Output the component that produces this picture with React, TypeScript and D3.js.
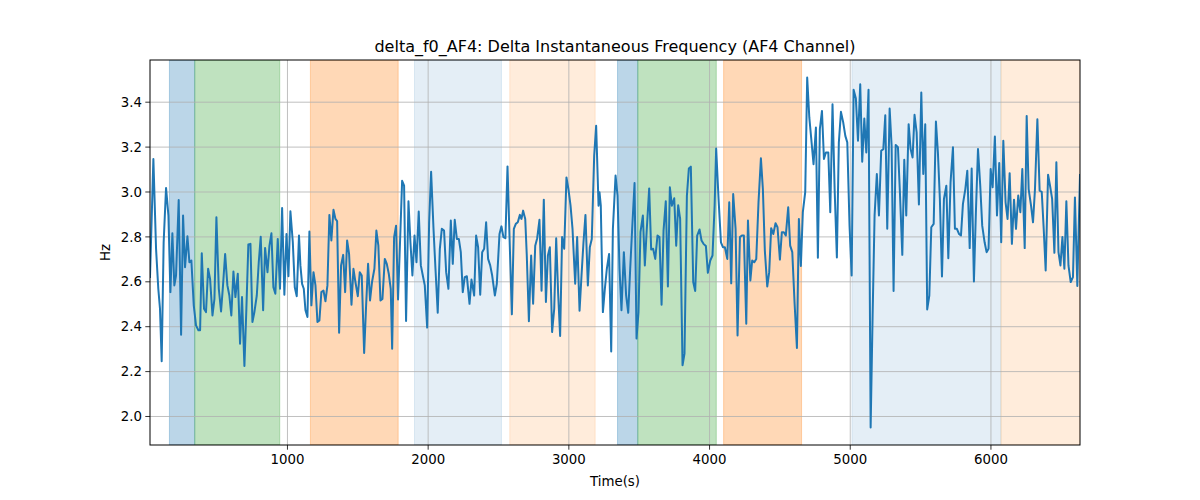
import React from "react";
import * as d3 from "d3";

const title = "delta_f0_AF4: Delta Instantaneous Frequency (AF4 Channel)";
const xLabel = "Time(s)";
const yLabel = "Hz";

const xTicks = [1000, 2000, 3000, 4000, 5000, 6000];
const yTicks = [2.0, 2.2, 2.4, 2.6, 2.8, 3.0, 3.2, 3.4];

// shaded segments: [start, end, colour, alpha]
const spanStarts = [161, 341, 1163, 1903, 2580, 3346, 3490, 4100, 5012, 6071];
const spanEnds = [341, 945, 1787, 2521, 3187, 3490, 4048, 4654, 6071, 6633];
const spanColors = ["#1f77b4", "#2ca02c", "#ff7f0e", "#1f77b4", "#ff7f0e", "#1f77b4", "#2ca02c", "#ff7f0e", "#1f77b4", "#ff7f0e"];
const spanAlphas = [0.3, 0.3, 0.3, 0.12, 0.15, 0.3, 0.3, 0.3, 0.12, 0.15];

const times = [
  23, 47, 66, 82, 94, 106, 120, 137, 154, 168, 182, 196, 208, 227, 244, 258, 272, 289, 303, 317,
  334, 350, 367, 379, 391, 407, 421, 436, 450, 467, 481, 495, 512, 528, 542, 557, 573, 587, 601, 616,
  630, 647, 663, 677, 694, 708, 722, 737, 751, 765, 782, 796, 810, 827, 841, 858, 872, 886, 900, 914,
  931, 947, 962, 978, 993, 1007, 1021, 1038, 1052, 1066, 1082,
  1092, 1104, 1116, 1128, 1142, 1156, 1170, 1185, 1199, 1213, 1227, 1241, 1256, 1270, 1284, 1298, 1312, 1327, 1341, 1353,
  1367, 1381, 1396, 1410, 1424, 1438, 1455, 1469, 1483, 1500, 1514, 1528, 1545, 1559, 1573, 1587, 1601, 1618, 1632, 1646,
  1661, 1675, 1692, 1706, 1720, 1734, 1744, 1758, 1772, 1786, 1800, 1815, 1829, 1843, 1860, 1874, 1888, 1903, 1917, 1933,
  1948, 1962, 1976, 1993, 2007, 2021, 2038, 2052, 2068, 2083, 2097, 2113, 2128, 2144,
  2161, 2175, 2189, 2204, 2218, 2232, 2246, 2260, 2275, 2294, 2308, 2327, 2341, 2355, 2370, 2384, 2398, 2412, 2426, 2441,
  2455, 2474, 2488, 2507, 2521, 2535, 2549, 2564, 2578, 2595, 2609, 2623, 2637, 2652, 2663, 2675, 2690, 2701, 2716, 2732,
  2746, 2761, 2775, 2791, 2806, 2822, 2837, 2851, 2865, 2881, 2896, 2910, 2924, 2938, 2952, 2967, 2983, 2997, 3012, 3026,
  3045, 3059, 3076, 3090, 3104, 3118, 3135, 3149, 3163, 3180, 3194, 3211,
  3218, 3227, 3242, 3256, 3270, 3286, 3301, 3313, 3332, 3346, 3360, 3374, 3391, 3407, 3422, 3436, 3450, 3467, 3481, 3495,
  3509, 3526, 3540, 3554, 3571, 3585, 3599, 3614, 3630, 3644, 3659, 3673, 3689, 3704, 3718, 3732, 3749, 3763, 3777, 3791,
  3808, 3822, 3839, 3853, 3867, 3884, 3898, 3912, 3929, 3943, 3957, 3974, 3988, 4005, 4021, 4036, 4047, 4064, 4081, 4095,
  4109, 4126, 4140, 4154, 4168, 4185, 4199, 4216, 4230, 4244, 4261, 4273,
  4290, 4303, 4318, 4332, 4348, 4365, 4379, 4393, 4410, 4424, 4438, 4453, 4469, 4483, 4500, 4514, 4528, 4542, 4559, 4573,
  4588, 4604, 4621, 4635, 4649, 4663, 4680, 4694, 4709, 4723, 4739, 4756, 4770, 4784, 4799, 4813, 4827, 4844, 4858, 4874,
  4889, 4905, 4919, 4934, 4950, 4965, 4979, 4995, 5010, 5024, 5040, 5055, 5071, 5085, 5100, 5114, 5130, 5145, 5159, 5173,
  5189, 5204, 5220, 5235, 5249, 5263, 5280, 5294, 5308, 5323, 5339,
  5353, 5370, 5384, 5398, 5415, 5429, 5443, 5457, 5472, 5488, 5505, 5519, 5533, 5547, 5562, 5576, 5593, 5609, 5623, 5637,
  5652, 5666, 5683, 5697, 5713, 5730, 5744, 5758, 5773, 5787, 5801, 5818, 5832, 5849, 5863, 5879, 5893, 5908, 5924, 5938,
  5955, 5969, 5983, 5998, 6012, 6028, 6043, 6059, 6073, 6088, 6104, 6118, 6133, 6149, 6164, 6178, 6194, 6209, 6223, 6240,
  6254, 6268, 6285, 6299, 6313, 6330, 6346, 6361, 6375, 6389, 6406, 6420, 6435, 6451, 6465, 6480, 6494, 6508, 6522, 6536,
  6551, 6567, 6583, 6597, 6614, 6633,
];

const values = [
  2.621, 3.147, 2.747, 2.569, 2.48, 2.246, 2.776, 3.018, 2.895, 2.554, 2.816, 2.584, 2.628, 2.964, 2.364, 2.895, 2.665, 2.803, 2.687, 2.695,
  2.495, 2.406, 2.384, 2.384, 2.727, 2.48, 2.465, 2.658, 2.613, 2.45, 2.524, 2.887, 2.569, 2.468, 2.584, 2.724, 2.584, 2.539, 2.45, 2.646,
  2.532, 2.636, 2.324, 2.532, 2.225, 2.48, 2.766, 2.769, 2.421, 2.465, 2.539, 2.687, 2.801, 2.473, 2.751, 2.643, 2.761, 2.816, 2.576, 2.547,
  2.791, 2.569, 2.929, 2.542, 2.813, 2.625, 2.914, 2.776, 2.576, 2.536, 2.806,
  2.673, 2.591, 2.569, 2.473, 2.443, 2.824, 2.495, 2.643, 2.584, 2.421, 2.428, 2.554, 2.561, 2.513, 2.584, 2.898, 2.784, 2.921, 2.88, 2.87,
  2.373, 2.673, 2.72, 2.554, 2.784, 2.724, 2.498, 2.658, 2.599, 2.536, 2.643, 2.628, 2.283, 2.495, 2.68, 2.517, 2.599, 2.658, 2.828, 2.761,
  2.517, 2.524, 2.702, 2.68, 2.636, 2.569, 2.302, 2.799, 2.85, 2.521, 2.776, 3.05, 3.028, 2.425, 2.959, 2.776, 2.628, 2.806, 2.687, 2.913,
  2.673, 2.628, 2.584, 2.396, 2.865, 3.09, 2.836, 2.658, 2.462, 2.747, 2.836, 2.828, 2.643, 2.569,
  2.873, 2.68, 2.876, 2.791, 2.791, 2.732, 2.554, 2.621, 2.625, 2.502, 2.61, 2.539, 2.806, 2.754, 2.542, 2.732, 2.747, 2.865, 2.702, 2.673,
  2.628, 2.539, 2.591, 2.813, 2.847, 2.799, 2.794, 3.114, 2.806, 2.455, 2.836, 2.858, 2.865, 2.898, 2.88, 2.917, 2.88, 2.717, 2.424, 2.717,
  2.502, 2.761, 2.794, 2.876, 2.56, 2.966, 2.51, 2.717, 2.754, 2.376, 2.48, 2.794, 2.547, 2.359, 2.799, 2.747, 3.065, 3.013, 2.939, 2.836,
  2.591, 2.799, 2.471, 2.628, 2.776, 2.898, 2.584, 2.754, 2.791, 3.161, 3.295, 2.939,
  2.999, 2.939, 2.465, 2.569, 2.658, 2.724, 2.29, 2.836, 3.073, 2.984, 2.658, 2.473, 2.732, 2.539, 2.462, 2.658, 2.836, 3.04, 2.347, 2.465,
  2.821, 2.895, 2.673, 2.836, 3.016, 2.744, 2.747, 2.702, 2.806, 2.799, 2.498, 2.828, 2.959, 2.579, 3.021, 2.939, 2.972, 2.761, 2.941, 2.88,
  2.228, 2.28, 2.984, 3.105, 3.113, 2.599, 2.559, 2.806, 2.833, 2.784, 2.769, 2.759, 2.64, 2.695, 2.717, 2.939, 3.194, 2.969, 2.776, 2.754,
  2.754, 2.702, 2.954, 2.593, 2.991, 2.836, 2.361, 2.799, 2.806, 2.806, 2.413, 2.873,
  2.606, 2.695, 2.687, 2.702, 2.954, 3.15, 3.013, 2.739, 2.579, 2.643, 2.839, 2.813, 2.861, 2.843, 2.699, 2.821, 2.821, 2.806, 2.932, 2.761,
  2.732, 2.51, 2.305, 2.88, 2.67, 2.91, 2.999, 3.51, 3.332, 3.236, 3.124, 3.287, 2.707, 3.28, 3.361, 3.147, 3.176, 3.176, 2.91, 3.391,
  3.013, 2.708, 3.221, 3.357, 3.31, 3.25, 3.221, 2.85, 2.628, 3.455, 3.416, 3.228, 3.48, 3.135, 3.327, 3.176, 3.455, 1.951, 2.45, 2.895,
  3.08, 2.895, 3.184, 3.191, 3.342, 2.836, 3.372, 3.206, 2.559, 3.209, 3.199,
  2.999, 2.72, 3.144, 2.895, 3.302, 3.191, 3.154, 3.344, 3.265, 2.944, 3.443, 3.08, 3.302, 2.477, 2.539, 2.843, 2.858, 3.314, 3.176, 2.969,
  2.624, 2.969, 3.028, 2.705, 3.043, 3.199, 2.836, 2.836, 2.813, 2.806, 2.947, 3.013, 3.095, 2.75, 3.105, 2.601, 2.91, 3.191, 3.028, 2.85,
  2.776, 2.732, 2.747, 3.102, 3.021, 3.247, 2.895, 3.129, 2.776, 3.228, 2.954, 2.88, 3.084, 2.769, 2.966, 2.836, 2.984, 2.91, 3.102, 2.75,
  3.339, 3.013, 2.939, 2.865, 3.013, 3.324, 3.006, 3.001, 2.836, 2.65, 3.077, 3.028, 2.969, 2.729, 3.132, 2.732, 2.673, 2.799, 2.658, 2.959,
  2.673, 2.599, 2.621, 2.976, 2.581, 3.076,
];

const W = 1200;
const H = 500;
const M = { left: 150, right: 1080, top: 60, bottom: 445 };
const FONT = "'DejaVu Sans', sans-serif";

export default function App() {
  const data = times.map((t, i) => ({ t, v: values[i] }));
  const xMin = d3.min(times) as number;
  const xMax = d3.max(times) as number;
  const vMin = d3.min(values) as number;
  const vMax = d3.max(values) as number;
  const pad = (vMax - vMin) * 0.05;

  const x = d3.scaleLinear().domain([xMin, xMax]).range([M.left, M.right]);
  const y = d3.scaleLinear().domain([vMin - pad, vMax + pad]).range([M.bottom, M.top]);

  const line = d3
    .line<{ t: number; v: number }>()
    .x((d) => x(d.t))
    .y((d) => y(d.v));

  return (
    <svg
      width={W}
      height={H}
      viewBox={`0 0 ${W} ${H}`}
      style={{ position: "fixed", left: 0, top: 0, background: "#fff" }}
      fontFamily={FONT}
    >
      <rect x={0} y={0} width={W} height={H} fill="#fff" />
      <defs>
        <clipPath id="plotclip">
          <rect x={M.left} y={M.top} width={M.right - M.left} height={M.bottom - M.top} />
        </clipPath>
      </defs>
      <g clipPath="url(#plotclip)">
        {spanStarts.map((s, i) => (
          <rect
            key={i}
            x={x(s)}
            y={M.top}
            width={x(spanEnds[i]) - x(s)}
            height={M.bottom - M.top}
            fill={spanColors[i]}
            fillOpacity={spanAlphas[i]}
            stroke={spanColors[i]}
            strokeOpacity={spanAlphas[i]}
            strokeWidth={1}
          />
        ))}
        {xTicks.map((t) => (
          <line key={"gx" + t} x1={x(t)} x2={x(t)} y1={M.top} y2={M.bottom} stroke="#b0b0b0" strokeWidth={0.8} />
        ))}
        {yTicks.map((t) => (
          <line key={"gy" + t} x1={M.left} x2={M.right} y1={y(t)} y2={y(t)} stroke="#b0b0b0" strokeWidth={0.8} />
        ))}
        <path d={line(data) || ""} fill="none" stroke="#1f77b4" strokeWidth={2} strokeLinejoin="round" strokeLinecap="square" />
      </g>
      <rect x={M.left} y={M.top} width={M.right - M.left} height={M.bottom - M.top} fill="none" stroke="#000" strokeWidth={1} />
      {xTicks.map((t) => (
        <g key={"tx" + t}>
          <line x1={x(t)} x2={x(t)} y1={M.bottom} y2={M.bottom + 4.7} stroke="#000" strokeWidth={0.8} />
          <text x={x(t)} y={M.bottom + 19} fontSize={13.33} textAnchor="middle" fill="#000">
            {t}
          </text>
        </g>
      ))}
      {yTicks.map((t) => (
        <g key={"ty" + t}>
          <line x1={M.left - 4.7} x2={M.left} y1={y(t)} y2={y(t)} stroke="#000" strokeWidth={0.8} />
          <text x={M.left - 8} y={y(t)} dy="0.35em" fontSize={13.33} textAnchor="end" fill="#000">
            {t.toFixed(1)}
          </text>
        </g>
      ))}
      <text x={(M.left + M.right) / 2} y={M.top - 8} fontSize={16} textAnchor="middle" fill="#000">
        {title}
      </text>
      <text x={(M.left + M.right) / 2} y={486} fontSize={13.33} textAnchor="middle" fill="#000">
        {xLabel}
      </text>
      <text
        transform={`translate(${110},${(M.top + M.bottom) / 2}) rotate(-90)`}
        fontSize={13.33}
        textAnchor="middle"
        fill="#000"
      >
        {yLabel}
      </text>
    </svg>
  );
}
